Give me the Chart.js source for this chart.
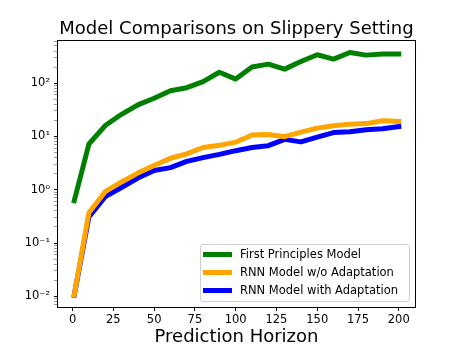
<!DOCTYPE html>
<html>
<head>
<meta charset="utf-8">
<script src="https://cdn.jsdelivr.net/npm/chart.js@4.4.1/dist/chart.umd.min.js"></script>
<style>
body { margin: 0; background: #fff; }
#wrap { position: relative; width: 461px; height: 346px; }
#legend {
  position: absolute; left: 200px; top: 244px; width: 206px;
  border: 1px solid #d0d0d0; border-radius: 3px;
  background: rgba(255,255,255,0.8);
  padding: 0 0 2px 2px;
  font-family: 'DejaVu Sans'; font-size: 11.5px; color: #000;
}
.row { height: 18px; display: flex; align-items: center; }
.sw { width: 29px; height: 5px; margin-right: 8px; }
</style>
</head>
<body>
<div id="wrap">
  <canvas id="myChart" width="461" height="346"></canvas>
  <div id="legend"></div>
</div>
<script>
var horizon = [1, 10, 20, 30, 40, 50, 60, 70, 80, 90, 100, 110, 120, 130, 140, 150, 160, 170, 180, 190, 200];
var firstPrinciples = [0.62, 7.2, 16, 26, 39, 52, 72, 82, 107, 160, 119, 200, 227, 183, 254, 340, 282, 375, 335, 350, 350];
var rnnNoAdapt = [0.0105, 0.37, 0.92, 1.4, 2.05, 2.85, 3.9, 4.7, 6.2, 6.8, 7.8, 10.6, 10.9, 9.9, 12, 14.3, 15.8, 17, 17.4, 19.6, 19.2];
var rnnAdapt = [0.0105, 0.31, 0.74, 1.1, 1.66, 2.3, 2.6, 3.4, 4.0, 4.6, 5.4, 6.2, 6.7, 8.8, 7.9, 9.7, 11.8, 12.2, 13.3, 13.9, 15.3];

var seriesNames = ['First Principles Model', 'RNN Model w/o Adaptation', 'RNN Model with Adaptation'];
var colorArr = ['#008000', '#FFA500', '#0000FF'];

var xTicks = [0, 25, 50, 75, 100, 125, 150, 175, 200];
var yMajorTicks = [0.01, 0.1, 1, 10, 100];
var yTickLabels = ['10\u207B\u00B2', '10\u207B\u00B9', '10\u2070', '10\u00B9', '10\u00B2'];

var yMin = Math.pow(10, -2.2);
var yMax = Math.pow(10, 2.79);

// minor ticks between decades
var yAllTicks = [];
[0.001].concat(yMajorTicks).forEach(function (d) {
  for (var k = 1; k <= 9; k++) {
    var v = k === 1 ? d : d * k;
    if (v >= yMin && v <= yMax) yAllTicks.push(v);
  }
});

var ctx = document.getElementById('myChart');

var frame = {
  id: 'frame',
  afterDraw: function (chart) {
    var a = chart.chartArea, c = chart.ctx;
    c.save();
    c.strokeStyle = '#000';
    c.lineWidth = 1;
    c.strokeRect(Math.round(a.left) - 0.5, Math.round(a.top) - 0.5,
      Math.round(a.right - a.left) + 1, Math.round(a.bottom - a.top) + 1);
    c.restore();
  }
};

var seriesData = [firstPrinciples, rnnNoAdapt, rnnAdapt];
var datasets = seriesData.map(function (vals, i) {
  return {
    label: seriesNames[i],
    data: horizon.map(function (h, j) { return { x: h, y: vals[j] }; }),
    borderColor: colorArr[i],
    backgroundColor: colorArr[i],
    borderWidth: 5,
    pointRadius: 0,
    fill: false,
    tension: 0,
    borderCapStyle: 'square',
    borderJoinStyle: 'round'
  };
});

var myChart = new Chart(ctx, {
  type: 'line',
  data: { datasets: datasets },
  plugins: [frame],
  options: {
    responsive: false,
    animation: false,
    layout: { padding: { left: 0, right: 46, top: 0, bottom: 0 } },
    plugins: {
      legend: { display: false },
      tooltip: { enabled: false },
      title: {
        display: true,
        fullSize: false, // centre over the plot area
        text: 'Model Comparisons on Slippery Setting',
        color: '#000',
        font: { family: 'DejaVu Sans', size: 18, weight: 'normal' },
        padding: { top: 19, bottom: 0.4 }
      }
    },
    scales: {
      x: {
        type: 'linear',
        min: -8.95,
        max: 209.95,
        afterBuildTicks: function (scale) {
          scale.ticks = xTicks.map(function (v) { return { value: v }; });
        },
        afterFit: function (scale) { scale.height = 39; },
        grid: { drawOnChartArea: false, tickLength: 4, color: '#000' },
        border: { display: false },
        ticks: {
          autoSkip: false, maxRotation: 0, padding: 2, color: '#000',
          font: { family: 'DejaVu Sans', size: 11.5 }
        },
        title: {
          display: true, text: 'Prediction Horizon', color: '#000',
          font: { family: 'DejaVu Sans', size: 18, lineHeight: 0.95 },
          padding: { top: 0, bottom: 0 }
        }
      },
      y: {
        type: 'logarithmic',
        min: yMin,
        max: yMax,
        afterBuildTicks: function (scale) {
          scale.ticks = yAllTicks.map(function (v) {
            return { value: v, major: yMajorTicks.indexOf(v) >= 0 };
          });
        },
        afterFit: function (scale) { scale.width = 58; },
        grid: {
          drawOnChartArea: false, tickLength: 4,
          color: function (c) { return c.tick && c.tick.major ? '#000' : '#555'; },
          lineWidth: function (c) { return c.tick && c.tick.major ? 1 : 0.6; }
        },
        border: { display: false },
        ticks: {
          autoSkip: false, padding: 4, color: '#000',
          font: { family: 'DejaVu Sans', size: 11.5 },
          callback: function (value) {
            var i = yMajorTicks.indexOf(value);
            return i >= 0 ? yTickLabels[i] : '';
          }
        }
      }
    }
  }
});

var legend = document.getElementById('legend');
seriesNames.forEach(function (name, i) {
  var row = document.createElement('div');
  row.className = 'row';
  var sw = document.createElement('div');
  sw.className = 'sw';
  sw.style.background = colorArr[i];
  var txt = document.createElement('span');
  txt.textContent = name;
  row.appendChild(sw);
  row.appendChild(txt);
  legend.appendChild(row);
});
</script>
</body>
</html>
